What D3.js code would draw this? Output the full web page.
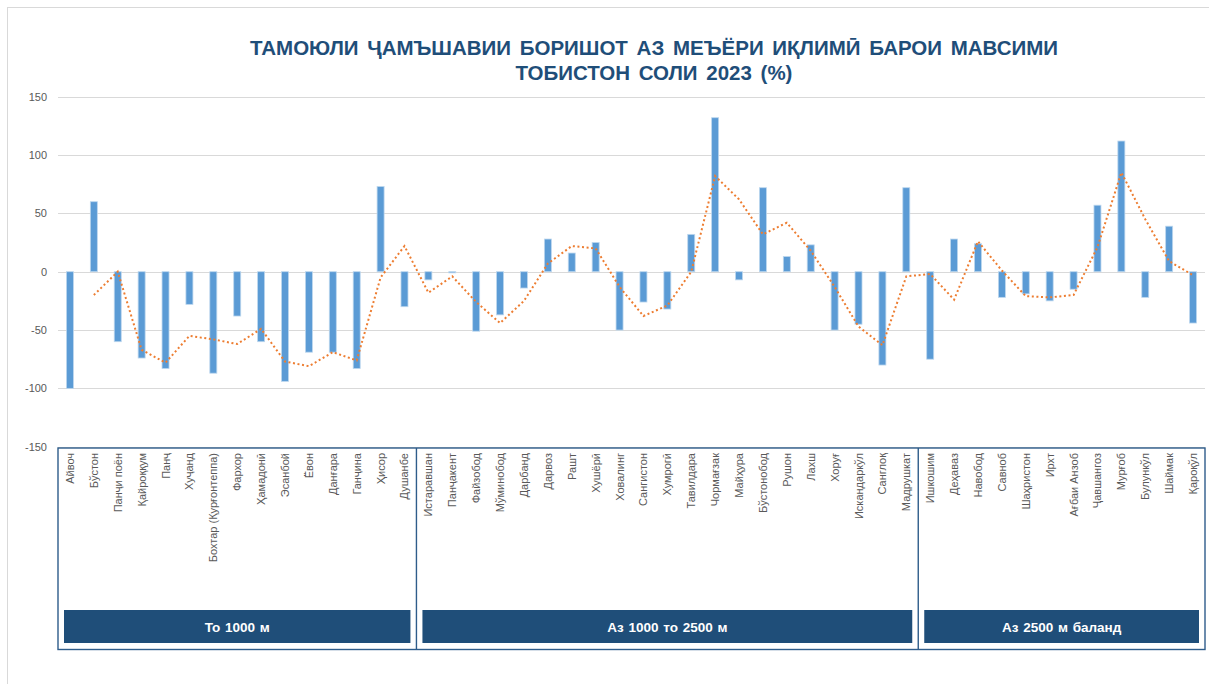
<!DOCTYPE html>
<html>
<head>
<meta charset="utf-8">
<script src="https://cdn.jsdelivr.net/npm/d3@7"></script>
<style>
  body { margin: 0; background: #fff; }
  svg { display: block; }
</style>
</head>
<body>
<div id="chart"></div>
<script>
// stations, grouped by altitude
const stations = [
  "Айвоч", "Бўстон", "Панҷи поён", "Қайроққум", "Панҷ", "Хуҷанд", "Бохтар (Қурғонтеппа)",
  "Фархор", "Ҳамадонӣ", "Эсанбой", "Ёвон", "Данғара", "Ганҷина", "Ҳисор", "Душанбе",
  "Истаравшан", "Панҷакент", "Файзобод", "Мўминобод", "Дарбанд", "Дарвоз", "Рашт", "Хушёрӣ",
  "Ховалинг", "Сангистон", "Хумрогӣ", "Тавилдара", "Чормағзак", "Майҳура", "Бўстонобод",
  "Рушон", "Лахш", "Хоруғ", "Искандаркўл", "Санглоқ", "Мадрушкат",
  "Ишкошим", "Деҳаваз", "Навобод", "Савноб", "Шаҳристон", "Ирхт", "Ағбаи Анзоб",
  "Ҷавшангоз", "Мурғоб", "Булункўл", "Шаймак", "Қароқўл"
];

// deviation from climate norm, %
const deviation = [
  -100, 60, -60, -74, -83, -28, -87, -38, -60, -94, -69, -69, -83, 73, -30,
  -7, -1, -51, -37, -14, 28, 16, 25, -50, -26, -32, 32, 132, -7, 72, 13, 23, -50, -45, -80, 72,
  -75, 28, 24, -22, -19, -25, -15, 57, 112, -22, 39, -44
];

// dotted trend line (no value for the first station)
const trend = [
  null, -20, 0, -67, -78, -55, -58, -62, -49, -77, -81, -69, -76, -5, 22,
  -18, -4, -26, -44, -25, 7, 22, 20, -13, -38, -29, 0, 82, 62, 32, 42, 18, -13, -47, -63, -4,
  -2, -24, 26, 1, -21, -22, -20, 21, 85, 45, 9, -3
];

const groups = [
  {name: "То 1000 м", first: "Айвоч", last: "Душанбе"},
  {name: "Аз 1000 то 2500 м", first: "Истаравшан", last: "Мадрушкат"},
  {name: "Аз 2500 м баланд", first: "Ишкошим", last: "Қароқўл"}
];

const yTicks = [150, 100, 50, 0, -50, -100, -150];

const width = 1209, height = 684;

const svg = d3.select("#chart").append("svg")
    .attr("width", width)
    .attr("height", height);

// outer chart border
svg.append("rect")
    .attr("x", 7.5).attr("y", 7.5)
    .attr("width", width).attr("height", height)
    .attr("fill", "none")
    .attr("stroke", "#d9d9d9");

const x = d3.scaleBand()
    .domain(stations)
    .range([58, 1205]);

const y = d3.scaleLinear()
    .domain([-150, 150])
    .range([446.7, 96.7]);

// title
const title = svg.append("text")
    .attr("text-anchor", "middle")
    .attr("font-family", "'Liberation Sans Narrow', 'Arial Narrow', 'Liberation Sans', sans-serif")
    .attr("font-weight", "bold")
    .attr("font-size", 20.5)
    .attr("fill", "#1f4e79")
    .attr("word-spacing", 3);
title.append("tspan").attr("x", 654).attr("y", 55)
    .text("ТАМОЮЛИ ҶАМЪШАВИИ БОРИШОТ АЗ МЕЪЁРИ ИҚЛИМӢ БАРОИ МАВСИМИ");
title.append("tspan").attr("x", 654).attr("y", 80)
    .text("ТОБИСТОН СОЛИ 2023 (%)");

// gridlines and y labels
svg.append("g")
  .selectAll("line")
  .data(yTicks)
  .join("line")
    .attr("x1", 58).attr("x2", 1205)
    .attr("y1", d => Math.round(y(d)) + 0.5)
    .attr("y2", d => Math.round(y(d)) + 0.5)
    .attr("stroke", "#d9d9d9");

svg.append("g")
    .attr("font-family", "'Liberation Sans', Arial, sans-serif")
    .attr("font-size", 11)
    .attr("fill", "#595959")
    .attr("text-anchor", "end")
  .selectAll("text")
  .data(yTicks)
  .join("text")
    .attr("x", 47)
    .attr("y", d => y(d))
    .attr("dy", "0.35em")
    .text(d => d);

// bars
const barW = 7;
svg.append("g")
  .selectAll("rect")
  .data(stations)
  .join("rect")
    .attr("x", d => x(d) + x.bandwidth() / 2 - barW / 2)
    .attr("y", (d, i) => y(Math.max(0, deviation[i])))
    .attr("width", barW)
    .attr("height", (d, i) => Math.abs(y(deviation[i]) - y(0)))
    .attr("fill", "#5b9bd5")
    .attr("stroke", "#bdd7ee")
    .attr("stroke-width", 0.8);

// dotted trend line
const line = d3.line()
    .defined(d => d[1] != null)
    .x(d => x(d[0]) + x.bandwidth() / 2)
    .y(d => y(d[1]));

svg.append("path")
    .datum(stations.map((s, i) => [s, trend[i]]))
    .attr("d", line)
    .attr("fill", "none")
    .attr("stroke", "#ed7d31")
    .attr("stroke-width", 2)
    .attr("stroke-dasharray", "2 2.6");

// station labels, rotated
svg.append("g")
    .attr("font-family", "'Liberation Sans', Arial, sans-serif")
    .attr("font-size", 11)
    .attr("fill", "#595959")
    .attr("text-anchor", "end")
  .selectAll("text")
  .data(stations)
  .join("text")
    .attr("transform", d => `translate(${x(d) + x.bandwidth() / 2 + 4},453) rotate(-90)`)
    .text(d => d);

// group table under axis
const frameTop = 448, frameBottom = 649.5;
const gx0 = g => x(g.first), gx1 = g => x(g.last) + x.bandwidth();

svg.append("g")
  .selectAll("rect")
  .data(groups)
  .join("rect")
    .attr("x", g => gx0(g) + 6)
    .attr("y", 610)
    .attr("width", g => gx1(g) - gx0(g) - 12)
    .attr("height", 33)
    .attr("fill", "#1f4e79");

svg.append("g")
    .attr("font-family", "'Liberation Sans Narrow', 'Arial Narrow', 'Liberation Sans', sans-serif")
    .attr("font-weight", "bold")
    .attr("font-size", 13.5)
    .attr("fill", "#fff")
    .attr("text-anchor", "middle")
  .selectAll("text")
  .data(groups)
  .join("text")
    .attr("x", g => (gx0(g) + gx1(g)) / 2)
    .attr("y", 631.5)
    .attr("word-spacing", 1)
    .text(g => g.name);

const frame = svg.append("g")
    .attr("fill", "none")
    .attr("stroke", "#2e5c8a")
    .attr("stroke-width", 1.4);

frame.append("rect")
    .attr("x", x.range()[0])
    .attr("y", frameTop)
    .attr("width", x.range()[1] - x.range()[0])
    .attr("height", frameBottom - frameTop);

frame.selectAll("line")
  .data(groups.slice(1))
  .join("line")
    .attr("x1", g => gx0(g)).attr("x2", g => gx0(g))
    .attr("y1", frameTop).attr("y2", frameBottom);
</script>
</body>
</html>
